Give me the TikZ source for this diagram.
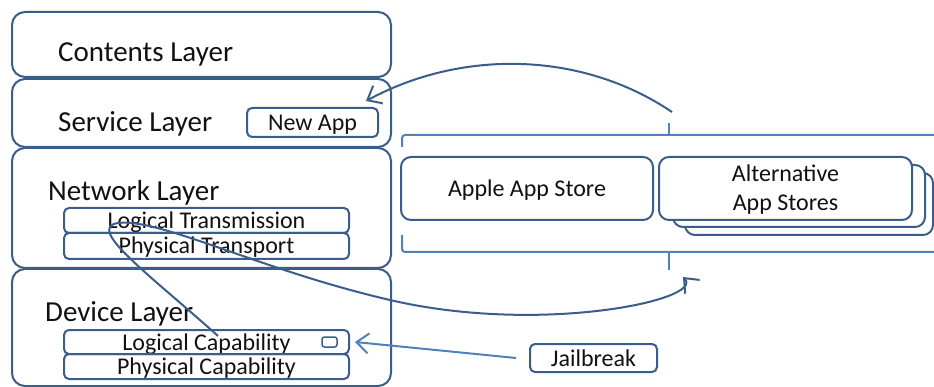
\documentclass[tikz,border=0pt]{standalone}
\usepackage{fontspec}
\setmainfont{Carlito}
\usetikzlibrary{arrows.meta}
\definecolor{boxc}{HTML}{3A5D8B}
\definecolor{lightc}{HTML}{4F81BD}
\definecolor{txt}{HTML}{111111}
\begin{document}
\begin{tikzpicture}[x=1pt,y=-1pt,
  layer/.style={draw=boxc, line width=2pt, rounded corners=13pt, inner sep=0pt},
  sub/.style={draw=boxc, line width=2pt, rounded corners=5pt, inner sep=0pt,
    font=\fontsize{24}{29}\selectfont, text=txt, text height=17pt, text depth=1pt},
  store/.style={draw=boxc, line width=2pt, rounded corners=10pt, fill=white, inner sep=0pt},
  stxt/.style={inner sep=0pt, font=\fontsize{24}{29}\selectfont, text=txt, align=center},
  lbl/.style={anchor=base west, inner sep=0pt, font=\fontsize{29}{35}\selectfont, text=txt},
  brk/.style={draw=lightc, line width=2pt},
  conn/.style={draw=boxc, line width=2pt, -{Straight Barb[length=12pt,width=20pt]}},
  jconn/.style={draw=lightc, line width=2pt, -{Straight Barb[length=12pt,width=20pt]}}
]
\useasboundingbox (0,0) rectangle (934,387);
% layers
\node[layer, minimum width=379pt, minimum height=65pt] (contents) at (201.5,44.5) {};
\node[layer, minimum width=379pt, minimum height=68pt] (service) at (201.5,113) {};
\node[layer, minimum width=379pt, minimum height=120pt] (network) at (201.5,208) {};
\node[layer, minimum width=379pt, minimum height=117pt] (device) at (201.5,327.5) {};
\node[lbl] (contentsl) at (58,62) {Contents Layer};
\node[lbl] (servicel) at (58,132) {Service Layer};
\node[lbl] (networkl) at (48,201) {Network Layer};
\node[lbl] (devicel) at (45,321) {Device Layer};
% sub boxes
\node[sub, minimum width=131pt, minimum height=29pt] (newapp) at (312.5,122.5) {New App};
\node[sub, minimum width=285pt, minimum height=25pt] (logtrans) at (206.5,220.5) {Logical Transmission};
\node[sub, minimum width=285pt, minimum height=26pt] (phystrans) at (206.5,246) {Physical Transport};
\node[sub, minimum width=285pt, minimum height=24pt] (logcap) at (206.5,342) {Logical Capability};
\node[sub, minimum width=285pt, minimum height=25pt] (physcap) at (206.5,366.5) {Physical Capability};
\node[draw=boxc, line width=1.5pt, rounded corners=2.5pt, minimum width=15pt, minimum height=10pt, inner sep=0pt] (chip) at (329.5,342) {};
% stores
\node[store, minimum width=252pt, minimum height=63pt] (apple) at (527,188.5) {};
\node[stxt] (appletext) at ([yshift=-2pt]apple.center) {Apple App Store};
\node[store, minimum width=248pt, minimum height=62pt] (alt3) at (809,204) {};
\node[store, minimum width=252pt, minimum height=62pt] (alt2) at (799,196) {};
\node[store, minimum width=253pt, minimum height=63pt] (alt1) at (785.5,188.5) {};
\node[stxt] (alttext) at ([yshift=-1.5pt]alt1.center) {Alternative\\App Stores};
\node[sub, minimum width=127pt, minimum height=28pt] (jb) at (593.5,358) {Jailbreak};
% brackets
\coordinate (toptip) at (669,123);
\coordinate (bottip) at (669,270);
\draw[brk, rounded corners=3pt] (402,147) -- (402,135) -- (934,135);
\draw[brk] (toptip) -- (669,135);
\draw[brk, rounded corners=3pt] (402,235) -- (402,252) -- (934,252);
\draw[brk] (669,252) -- (bottip);
% connectors
\coordinate (arcstart) at (672,112);
\draw[conn] (arcstart) .. controls (580,50) and (460,50) .. ([shift={(-13,-6)}]newapp.north east);
\coordinate (loopstart) at (218,336);
\coordinate (looptop) at (118,223);
\coordinate (loopmid) at (390,300);
\coordinate (loopend) at (683,277);
\draw[conn] (loopstart) .. controls (150,275) and (85,228) .. (looptop)
  .. controls (160,218) and (260,270) .. (loopmid)
  .. controls (540,335) and (705,300) .. (loopend);
\draw[jconn] ([xshift=-13pt]jb.west) -- ([xshift=5pt]logcap.east);
\end{tikzpicture}
\end{document}
